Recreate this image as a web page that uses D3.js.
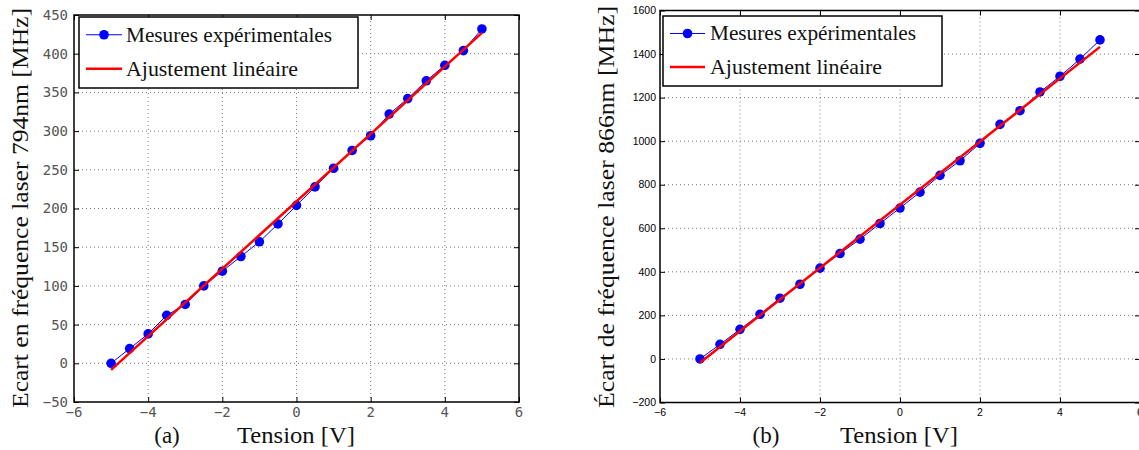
<!DOCTYPE html>
<html><head><meta charset="utf-8">
<script src="https://cdn.jsdelivr.net/npm/d3@7"></script>
<style>body{margin:0;background:#fff}svg{display:block}</style>
</head><body>
<svg id="c" width="1139" height="450"></svg>
<script>
// ---- data ----
const tension = [-5,-4.5,-4,-3.5,-3,-2.5,-2,-1.5,-1,-0.5,0,0.5,1,1.5,2,2.5,3,3.5,4,4.5,5];
const ecart794 = [0,19,38,62,76,100,119,138,157,180,204,228,252,275,294,322,342,365,385,404,432];
const ecart866 = [0,67,136,205,279,343,417,484,550,622,693,766,843,910,990,1077,1140,1226,1298,1377,1465];
const fitX = [-5, 5];
const fit794 = [-8.5, 427];
const fit866 = [-17, 1433];
const xTicks = [-6,-4,-2,0,2,4,6];
const yTicks794 = [-50,0,50,100,150,200,250,300,350,400,450];
const yTicks866 = [-200,0,200,400,600,800,1000,1200,1400,1600];
const legendLabels = ["Mesures expérimentales", "Ajustement linéaire"];
const yLabel794 = "Ecart en fréquence laser 794nm [MHz]";
const yLabel866 = "Écart de fréquence laser 866nm [MHz]";
const xLabel = "Tension [V]";

const svg = d3.select("#c");
const serif = "'Liberation Serif', 'DejaVu Serif', serif";

function panel(o){
  const g = svg.append("g");
  const x = d3.scaleLinear().domain([-6,6]).range([o.x0,o.x1]);
  const y = d3.scaleLinear().domain(o.yDom).range([o.y0,o.y1]);
  // grid
  g.append("g").selectAll("line").data(o.xTicks.slice(1,-1)).join("line")
    .attr("x1",d=>x(d)).attr("x2",d=>x(d)).attr("y1",o.y0).attr("y2",o.y1)
    .attr("stroke","#777").attr("stroke-width",1).attr("stroke-dasharray","1,3");
  g.append("g").selectAll("line").data(o.yTicks.slice(1,-1)).join("line")
    .attr("y1",d=>y(d)).attr("y2",d=>y(d)).attr("x1",o.x0).attr("x2",o.x1)
    .attr("stroke","#777").attr("stroke-width",1).attr("stroke-dasharray","1,3");
  // axes with inward ticks
  const tl = 5;
  const bottom = g.append("g").attr("transform",`translate(0,${o.y0})`)
    .call(d3.axisBottom(x).tickValues(o.xTicks).tickSize(-tl).tickFormat(""));
  const top = g.append("g").attr("transform",`translate(0,${o.y1})`)
    .call(d3.axisTop(x).tickValues(o.xTicks).tickSize(-tl).tickFormat(""));
  const left = g.append("g").attr("transform",`translate(${o.x0},0)`)
    .call(d3.axisLeft(y).tickValues(o.yTicks).tickSize(-tl).tickFormat(""));
  const right = g.append("g").attr("transform",`translate(${o.x1},0)`)
    .call(d3.axisRight(y).tickValues(o.yTicks).tickSize(-tl).tickFormat(""));
  [bottom,top,left,right].forEach(a=>{
    a.select(".domain").remove();
    a.selectAll("line").attr("stroke","#000").attr("stroke-width",1);
  });
  g.append("rect").attr("x",o.x0).attr("y",o.y1).attr("width",o.x1-o.x0).attr("height",o.y0-o.y1)
    .attr("fill","none").attr("stroke","#000").attr("stroke-width",1.5);
  // tick labels
  const fmt = d=> d<0 ? "\u2212"+Math.abs(d) : String(d);
  g.append("g").selectAll("text").data(o.yTicks).join("text")
    .attr("x",o.x0-o.lblGapY).attr("y",d=>y(d)).attr("dy","0.35em")
    .attr("text-anchor","end").attr("font-family",o.tickFont).attr("font-size",o.tickSize)
    .attr("fill",o.tickColor).text(fmt);
  g.append("g").selectAll("text").data(o.xTicks).join("text")
    .attr("x",d=>x(d)).attr("y",o.y0+o.lblGapX).attr("dy","0.35em")
    .attr("text-anchor","middle").attr("font-family",o.tickFont).attr("font-size",o.tickSize)
    .attr("fill",o.tickColor).text(fmt);
  // data line
  const pts = tension.map((t,i)=>[t,o.vals[i]]);
  const line = d3.line().x(d=>x(d[0])).y(d=>y(d[1]));
  g.append("path").attr("d",line(pts)).attr("fill","none").attr("stroke","#0000ff").attr("stroke-width",1);
  g.append("g").selectAll("circle").data(pts).join("circle")
    .attr("cx",d=>x(d[0])).attr("cy",d=>y(d[1])).attr("r",4.8).attr("fill","#0000ff");
  // fit
  g.append("path").attr("d",line(fitX.map((t,i)=>[t,o.fit[i]])))
    .attr("fill","none").attr("stroke","#ff0000").attr("stroke-width",2.5);
  // legend
  const L = o.legend;
  g.append("rect").attr("x",L.x).attr("y",L.y).attr("width",L.w).attr("height",L.h)
    .attr("fill","#fff").attr("stroke","#000").attr("stroke-width",1.5);
  const r1 = L.y + L.h*0.25, r2 = L.y + L.h*0.73;
  g.append("line").attr("x1",L.lx0).attr("x2",L.lx1).attr("y1",r1).attr("y2",r1).attr("stroke","#0000ff").attr("stroke-width",1);
  g.append("circle").attr("cx",(L.lx0+L.lx1)/2).attr("cy",r1).attr("r",4.8).attr("fill","#0000ff");
  g.append("line").attr("x1",L.lx0).attr("x2",L.lx1).attr("y1",r2).attr("y2",r2).attr("stroke","#ff0000").attr("stroke-width",2.5);
  [r1,r2].forEach((ry,i)=>{
    g.append("text").attr("x",L.tx).attr("y",ry).attr("dy","0.33em")
      .attr("font-family",serif).attr("font-size",21).attr("fill","#111")
      .attr("textLength", i===0?L.tw1:L.tw2).attr("lengthAdjust","spacingAndGlyphs")
      .text(legendLabels[i]);
  });
  // axis labels
  g.append("text").attr("transform",`translate(${o.ylx},${o.yly}) rotate(-90)`)
    .attr("text-anchor","middle").attr("font-family",serif).attr("font-size",24).attr("fill","#111")
    .attr("textLength",o.ylw).attr("lengthAdjust","spacingAndGlyphs").text(o.ylabel);
  g.append("text").attr("x",o.xlx).attr("y",o.xly).attr("text-anchor","middle")
    .attr("font-family",serif).attr("font-size",23).attr("fill","#111")
    .attr("textLength",118).attr("lengthAdjust","spacingAndGlyphs").text(xLabel);
  g.append("text").attr("x",o.tagx).attr("y",o.xly).attr("text-anchor","middle")
    .attr("font-family",serif).attr("font-size",23).attr("fill","#111").text(o.tag);
}

panel({x0:74,x1:519,y0:402,y1:15,yDom:[-50,450],xTicks:xTicks,yTicks:yTicks794,
  vals:ecart794,fit:fit794,tickFont:"'DejaVu Sans Mono', monospace",tickSize:14,tickColor:"#555",
  lblGapY:6,lblGapX:10,
  legend:{x:79,y:17,w:279,h:71,lx0:86,lx1:122,tx:126,tw1:206,tw2:172},
  ylabel:yLabel794,ylx:28,yly:208,ylw:400,xlx:296,xly:443,tag:"(a)",tagx:167});

panel({x0:660,x1:1140,y0:402.5,y1:10.5,yDom:[-200,1600],xTicks:xTicks,yTicks:yTicks866,
  vals:ecart866,fit:fit866,tickFont:"'Liberation Sans', Arial, sans-serif",tickSize:10.5,tickColor:"#000",
  lblGapY:4,lblGapX:10,
  legend:{x:663,y:16,w:279,h:70,lx0:670,lx1:705,tx:710,tw1:206,tw2:172},
  ylabel:yLabel866,ylx:614,yly:207,ylw:402,xlx:899,xly:443,tag:"(b)",tagx:766});
</script>
</body></html>
